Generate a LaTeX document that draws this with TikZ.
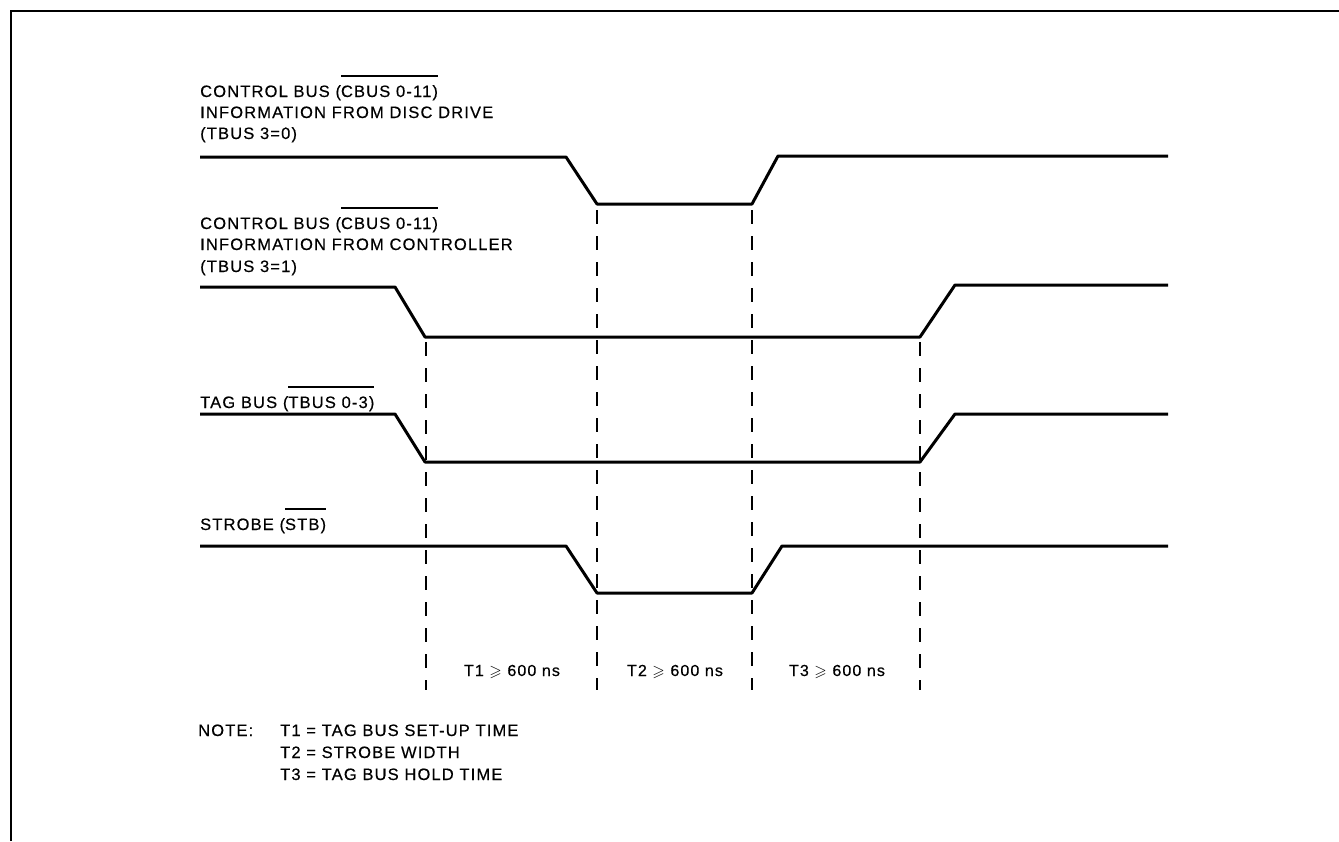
\documentclass[tikz,border=0pt]{standalone}
\usepackage{amsmath}
\usepackage{amssymb}
\usepackage{fontspec}
\setmainfont{Liberation Sans}[LetterSpace=7,FakeBold=0.4]
\newcommand\ovl[1]{\setbox0=\hbox{#1}\rlap{\raisebox{20.5pt}{\rule{\wd0}{1.4pt}}}\box0}
\begin{document}
\begin{tikzpicture}[x=1pt,y=-1pt,
  lbl/.style={anchor=base west, inner sep=0pt, font=\fontsize{16.5}{20}\selectfont},
  tlbl/.style={anchor=base, inner sep=0pt, font=\fontsize{16}{20}\selectfont},
  sig/.style={line width=3pt, line join=round},
  guide/.style={line width=1.3pt, dash pattern=on 14pt off 12pt},
  frame/.style={line width=2pt}]
\useasboundingbox (0,0) rectangle (1339,841);
% frame
\draw[frame] (11,841) -- (11,11) -- (1339,11);
% labels
\node[lbl] (c1a) at (200,97) {CONTROL BUS (\ovl{CBUS 0-11)}};
\node[lbl] (c1b) at (200,118) {INFORMATION FROM DISC DRIVE};
\node[lbl] (c1c) at (200,139) {(TBUS 3=0)};
\node[lbl] (c2a) at (200,229) {CONTROL BUS (\ovl{CBUS 0-11)}};
\node[lbl] (c2b) at (200,250) {INFORMATION FROM CONTROLLER};
\node[lbl] (c2c) at (200,272) {(TBUS 3=1)};
\node[lbl] (tag) at (200,408) {TAG BUS (\ovl{TBUS 0-3)}};
\node[lbl] (stb) at (200,530) {STROBE (\ovl{STB)}};
% waveforms
\draw[sig] (200,157) -- (566,157) -- (597,204) -- (752,204) -- (778,156) -- (1168,156);
\draw[sig] (200,287) -- (395,287) -- (425,337) -- (920,337) -- (955,285) -- (1168,285);
\draw[sig] (200,414) -- (395,414) -- (425,462) -- (920,462) -- (955,414) -- (1168,414);
\draw[sig] (200,546) -- (566,546) -- (597,593) -- (752,593) -- (782,546) -- (1168,546);
% guides
\coordinate (g1t) at (426,342); \coordinate (g1b) at (426,690);
\coordinate (g2t) at (597,210); \coordinate (g2b) at (597,690);
\coordinate (g3t) at (752,210); \coordinate (g3b) at (752,690);
\coordinate (g4t) at (920,342); \coordinate (g4b) at (920,690);
\draw[guide] (g1t) -- (g1b);
\draw[guide] (g2t) -- (g2b);
\draw[guide] (g3t) -- (g3b);
\draw[guide] (g4t) -- (g4b);
% timing labels
\node[tlbl] (t1) at (512,676) {T1 $\boldsymbol{\geqslant}$ 600 ns};
\node[tlbl] (t2) at (675,676) {T2 $\boldsymbol{\geqslant}$ 600 ns};
\node[tlbl] (t3) at (837,676) {T3 $\boldsymbol{\geqslant}$ 600 ns};
% note
\node[lbl] (note) at (198,736) {NOTE:};
\node[lbl] (n1) at (280,736) {T1 = TAG BUS SET-UP TIME};
\node[lbl] (n2) at (280,758) {T2 = STROBE WIDTH};
\node[lbl] (n3) at (280,780) {T3 = TAG BUS HOLD TIME};
\end{tikzpicture}
\end{document}
